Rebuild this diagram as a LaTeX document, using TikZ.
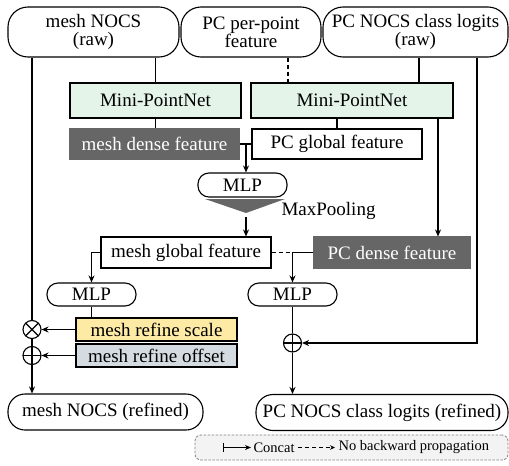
\documentclass[tikz,border=0pt]{standalone}
\usepackage{fontspec}
\setmainfont{Liberation Serif}
\usetikzlibrary{arrows.meta}
\definecolor{mpgreen}{RGB}{228,244,233}
\definecolor{darkfeat}{RGB}{102,102,102}
\definecolor{scaley}{RGB}{253,234,165}
\definecolor{offsetg}{RGB}{212,220,225}
\definecolor{legfill}{RGB}{243,243,243}
\begin{document}
\begin{tikzpicture}[x=1pt,y=-1pt,line width=1.1pt,
  >={Stealth[length=7pt,width=6pt]},
  base/.style={draw,inner sep=0pt,align=center,font=\fontsize{19}{18}\selectfont},
  term/.style={base,rounded corners=#1},
  plainbox/.style={base,rectangle},
  greenbox/.style={base,fill=mpgreen},
  darkbox/.style={base,draw=darkfeat,fill=darkfeat,text=white},
  opc/.style={circle,draw,minimum size=18pt,inner sep=0pt},
  dsh/.style={dash pattern=on 4pt off 3pt}]
\useasboundingbox (0,0) rectangle (509,466);
% input terminals
\node[term=20pt,minimum width=171pt,minimum height=50pt] (mraw) at (93.5,32) {mesh NOCS\\(raw)};
\node[term=20pt,minimum width=140pt,minimum height=50pt] (ppf) at (251,32) {PC per-point\\feature};
\node[term=20pt,minimum width=185pt,minimum height=50pt] (praw) at (415.5,32) {PC NOCS class logits\\(raw)};
% mini pointnets
\node[greenbox,minimum width=171pt,minimum height=35pt] (mpn1) at (155.5,100.5) {Mini-PointNet};
\node[greenbox,minimum width=202pt,minimum height=35pt] (mpn2) at (352,100.5) {Mini-PointNet};
% features
\node[darkbox,minimum width=169pt,minimum height=30pt] (mdf) at (154.5,144) {mesh dense feature};
\node[plainbox,minimum width=170pt,minimum height=30pt] (pgf) at (337,144) {PC global feature};
\node[term=11pt,minimum width=89pt,minimum height=24pt] (mlp1) at (242.5,185) {MLP};
\coordinate (tl) at (205,199);
\coordinate (tr) at (285,199);
\coordinate (apex) at (246,213);
\coordinate (apexarr) at (246,217);
\fill[darkfeat] (tl) -- (tr) -- (apex) -- cycle;
\node[anchor=west,inner sep=0pt,font=\fontsize{19}{18}\selectfont] (mp) at (281,211) {MaxPooling};
\node[plainbox,minimum width=170pt,minimum height=31pt] (mgf) at (186,252.5) {mesh global feature};
\node[darkbox,minimum width=156pt,minimum height=31pt] (pdf) at (392,252.5) {PC dense feature};
\node[term=11pt,minimum width=89pt,minimum height=23pt] (mlp2) at (91.5,294.5) {MLP};
\node[term=11pt,minimum width=89pt,minimum height=23pt] (mlp3) at (292.5,294.5) {MLP};
\node[base,fill=scaley,minimum width=161pt,minimum height=23pt] (scale) at (156.5,329.5) {mesh refine scale};
\node[base,fill=offsetg,minimum width=161pt,minimum height=23pt] (offset) at (156.5,355.5) {mesh refine offset};
\node[opc,path picture={\draw[line width=1.1pt] (path picture bounding box.north west) -- (path picture bounding box.south east) (path picture bounding box.north east) -- (path picture bounding box.south west);}] (otimes) at (32,329.5) {};
\node[opc,path picture={\draw[line width=1.1pt] (path picture bounding box.north) -- (path picture bounding box.south) (path picture bounding box.west) -- (path picture bounding box.east);}] (oplus) at (32,355.5) {};
\node[opc,path picture={\draw[line width=1.1pt] (path picture bounding box.north) -- (path picture bounding box.south) (path picture bounding box.west) -- (path picture bounding box.east);}] (oplus2) at (292.5,343) {};
\node[term=17pt,minimum width=195pt,minimum height=36pt] (mref) at (105.5,412) {mesh NOCS (refined)};
\node[term=17pt,minimum width=252pt,minimum height=36pt] (pref) at (382,412.5) {PC NOCS class logits (refined)};
% helper coordinates
\coordinate (cx1) at (288,0);
\coordinate (cx2) at (419,0);
\coordinate (cx3) at (477,0);
\coordinate (cx4) at (438,0);
\coordinate (j1) at (246,144);
% connectors
\draw (mraw.south -| otimes.north) -- (otimes.north);
\draw (otimes.south) -- (oplus.north);
\draw[->] (oplus.south) -- (mref.north -| oplus.south);
\draw (mpn1.north |- mraw.south) -- (mpn1.north);
\draw[dsh] (ppf.south -| cx1) -- (mpn2.north -| cx1);
\draw (praw.south -| cx2) -- (mpn2.north -| cx2);
\draw[->] (praw.south -| cx3) -- (cx3 |- oplus2.east) -- (oplus2.east);
\draw (mpn1.south) -- (mpn1.south |- mdf.north);
\draw (mpn2.south -| pgf.north) -- (pgf.north);
\draw[->] (mpn2.south -| cx4) -- (pdf.north -| cx4);
\draw (mdf.east) -- (pgf.west);
\draw[->] (j1) -- (j1 |- mlp1.north);
\draw[->] (apexarr) -- (apexarr |- mgf.north);
\draw[->] (mgf.west) -| (mlp2.north);
\draw[dsh] (mgf.east) -- (mlp3.north |- mgf.east);
\draw[->] (pdf.west) -| (mlp3.north);
\draw (mlp2.south) -- (mlp2.south |- scale.north);
\draw[->] (scale.west) -- (otimes.east);
\draw[->] (offset.west) -- (oplus.east);
\draw (mlp3.south) -- (oplus2.north);
\draw[->] (oplus2.south) -- (pref.north -| oplus2.south);
% legend
\node[draw=gray,fill=legfill,dash pattern=on 2.5pt off 1.5pt,line width=0.8pt,rounded corners=6pt,minimum width=313pt,minimum height=25pt,inner sep=0pt] (leg) at (351.5,447.5) {};
\coordinate (la1) at (223,447.5);
\coordinate (la2) at (251,447.5);
\coordinate (lb1) at (298,447.5);
\coordinate (lb2) at (335,447.5);
\draw[{Bar[width=9pt]}-{Stealth[length=6pt,width=5pt]}] (la1) -- (la2);
\node[anchor=west,inner sep=0pt,font=\fontsize{14.5}{16}\selectfont] (lc) at (253,447.5) {Concat};
\draw[dsh,-{Stealth[length=5pt,width=4.5pt]}] (lb1) -- (lb2);
\node[anchor=west,inner sep=0pt,font=\fontsize{14.5}{16}\selectfont] (lnb) at (338,447.5) {No backward propagation};
\end{tikzpicture}
\end{document}
